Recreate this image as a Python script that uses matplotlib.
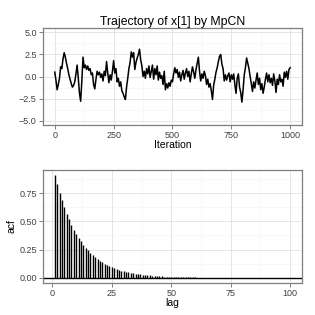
import numpy as np
import matplotlib
matplotlib.use("Agg")
import matplotlib.pyplot as plt
from matplotlib.ticker import MultipleLocator

plt.rcParams['font.family'] = ['Liberation Sans', 'DejaVu Sans']

# trajectory of x[1], read every 5 iterations
iters = list(range(0, 1001, 5))
traj = [
    0.5, -0.4, -1.5, -0.9, -0.2, 1.1, 0.9, 2.0, 2.7, 2.2,
    1.5, 0.9, 0.2, -0.3, -0.8, -1.2, -1.0, -0.6, 0.3, 1.3,
    -0.2, -1.9, -2.8, -0.5, 2.2, 1.0, 1.3, 0.8, 1.2, 0.7,
    0.9, 0.2, 0.4, -0.9, -1.4, -0.3, 0.6, 0.2, 0.5, -0.1,
    0.3, -0.5, 0.6, 0.1, 1.7, 0.4, -0.7, 0.2, -0.4, 0.6,
    1.8, 0.4, 0.9, -0.6, -0.2, -1.1, -0.6, -1.6, -1.9, -2.3,
    -2.6, -1.2, -0.2, 0.9, 1.6, 2.8, 2.2, 2.7, 0.8, 1.6,
    2.1, 2.5, 3.1, 1.9, 1.2, 0.0, 0.6, -0.2, 0.9, 0.3,
    1.2, -0.1, 0.6, 1.3, -0.3, 0.9, 0.2, 1.2, -0.4, 0.5,
    -0.2, 0.1, -0.9, 0.6, -1.5, -0.8, -1.3, -0.7, -1.1, -0.4,
    -0.6, 0.3, 1.0, 0.4, 0.8, -0.1, 0.5, -0.5, 0.2, 0.7,
    -0.3, 0.4, 0.9, 0.0, 0.6, -0.6, 0.3, 1.1, 0.5, -0.2,
    0.8, 1.5, 2.2, 0.6, -0.5, 0.3, -0.2, 0.6, 0.1, -0.9,
    -0.3, -1.2, -0.8, -1.6, -2.6, -1.0, -0.3, 0.5, 1.0, 1.7,
    2.3, 2.5, 1.4, 0.9, -0.5, 0.2, -0.4, 0.1, 0.4, -0.6,
    0.2, -0.3, 0.3, -0.9, -1.9, -0.2, 0.3, -1.2, -1.8, -2.9,
    -1.5, 0.2, 1.0, 2.1, 1.5, 0.9, 0.0, -0.8, -1.7, -0.6,
    -1.3, -0.4, 0.4, -0.9, -0.2, -1.5, -0.8, -1.9, -1.2, -0.3,
    0.4, -0.6, 0.2, -0.7, -0.2, -1.0, 0.3, -0.5, -1.8, -0.3,
    -0.9, 0.2, -0.6, -0.3, -1.1, 0.5, -0.1, 0.6, -0.3, 0.8,
    1.0,
]

# autocorrelation, lags 1..100
lags = list(range(1, 101))
acf = [
    0.910, 0.828, 0.754, 0.686, 0.624, 0.568, 0.517, 0.470, 0.428, 0.389,
    0.354, 0.322, 0.293, 0.267, 0.243, 0.221, 0.201, 0.183, 0.167, 0.152,
    0.138, 0.126, 0.114, 0.104, 0.095, 0.086, 0.079, 0.072, 0.065, 0.059,
    0.054, 0.049, 0.045, 0.041, 0.037, 0.034, 0.031, 0.028, 0.025, 0.023,
    0.021, 0.019, 0.017, 0.016, 0.014, 0.013, 0.012, 0.011, 0.010, 0.009,
    0.008, 0.007, 0.007, 0.006, 0.006, 0.005, 0.005, 0.004, 0.004, 0.004,
    0.003, 0.003, 0.003, 0.002, 0.002, 0.002, 0.002, 0.001, 0.001, 0.001,
    0.001, 0.001, 0.001, 0.000, 0.000, 0.000, 0.000, 0.000, 0.000, 0.000,
    0.000, 0.000, 0.000, 0.000, 0.000, 0.000, 0.000, 0.000, 0.000, 0.000,
    0.000, 0.000, 0.000, 0.000, 0.000, 0.000, 0.000, 0.000, 0.000, 0.000,
]

GREY50 = '#7F7F7F'
TXT = '#404040'


def style(ax, xmaj, ymaj):
    ax.set_facecolor('white')
    for s in ax.spines.values():
        s.set_color(GREY50)
        s.set_linewidth(0.9)
    ax.xaxis.set_major_locator(MultipleLocator(xmaj))
    ax.xaxis.set_minor_locator(MultipleLocator(xmaj / 2))
    ax.yaxis.set_major_locator(MultipleLocator(ymaj))
    ax.yaxis.set_minor_locator(MultipleLocator(ymaj / 2))
    ax.grid(True, which='major', color='#E5E5E5', linewidth=0.7)
    ax.grid(True, which='minor', color='#F5F5F5', linewidth=0.5)
    ax.set_axisbelow(True)
    ax.tick_params(which='major', length=3, width=0.7, color=GREY50,
                   labelsize=6.5, labelcolor=TXT, pad=1.5)
    ax.tick_params(which='minor', length=0)


fig = plt.figure(figsize=(3.15, 3.15), dpi=100)
ax1 = fig.add_axes([0.1365, 0.603, 0.822, 0.308])
ax2 = fig.add_axes([0.1365, 0.1016, 0.822, 0.359])

ax1.plot(iters, traj, color='black', linewidth=1.1)
ax1.set_xlim(-50, 1050)
ax1.set_ylim(-5.5, 5.5)
style(ax1, 250, 2.5)
ax1.set_yticks([-5, -2.5, 0, 2.5, 5])
ax1.set_yticklabels(['\u22125.0', '\u22122.5', '0.0', '2.5', '5.0'])
ax1.set_xlabel('Iteration', fontsize=7.5, labelpad=0)
ax1.set_title('Trajectory of x[1] by MpCN', fontsize=8.8, pad=2)

ax2.axhline(0, color='black', linewidth=1.0)
ax2.vlines(lags, 0, acf, color='black', linewidth=1.0)
ax2.set_xlim(-3.95, 104.95)
ax2.set_ylim(-0.0455, 0.9555)
style(ax2, 25, 0.25)
ax2.set_yticks([0, 0.25, 0.5, 0.75])
ax2.set_yticklabels(['0.00', '0.25', '0.50', '0.75'])
ax2.set_xlabel('lag', fontsize=7.5, labelpad=0)
ax2.set_ylabel('acf', fontsize=7.5, labelpad=2)

fig.savefig('out.png', dpi=100, facecolor='white')
